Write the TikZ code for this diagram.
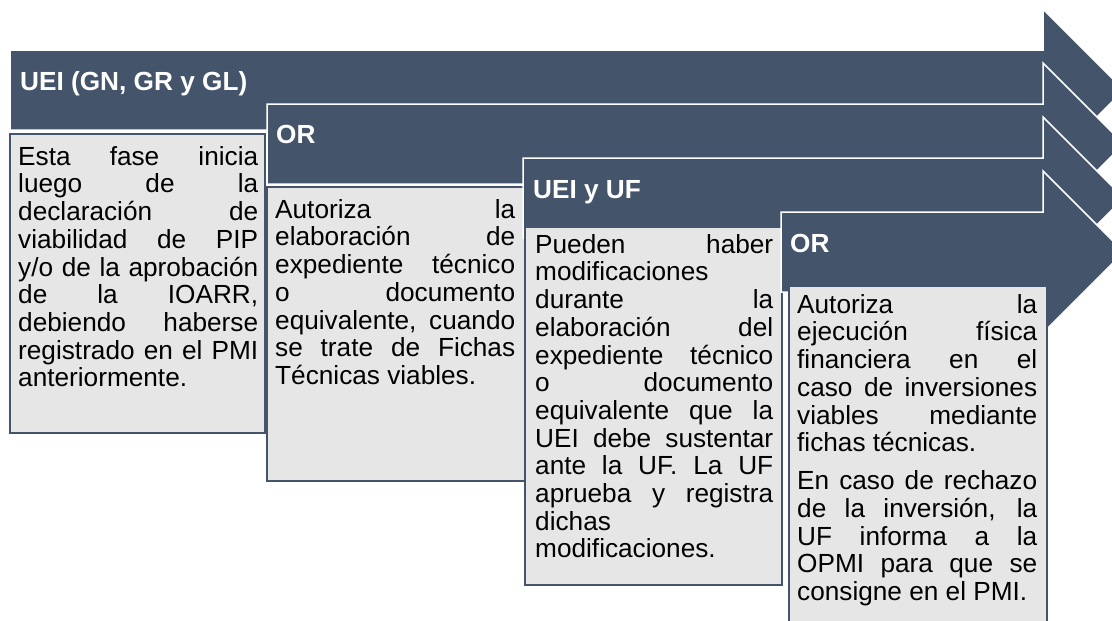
\documentclass[tikz,border=0pt]{standalone}
\usepackage{fontspec}
\setmainfont{Liberation Sans}
\definecolor{slate}{HTML}{44546A}
\definecolor{cardgrey}{HTML}{E7E6E6}
\newcommand{\txtfont}{\fontsize{26.2}{27.7}\selectfont}
\tikzset{
  arrowshape/.style={fill=slate, draw=white, line width=1.5pt, line join=miter},
  card/.style={fill=cardgrey, draw=slate, line width=2pt},
  title/.style={anchor=base west, inner sep=0pt, text=white, font=\txtfont\bfseries},
  bodytext/.style={anchor=north west, inner sep=0pt, text width=#1, align=justify, font=\txtfont},
}
\hyphenpenalty=10000
\exhyphenpenalty=10000
\tolerance=10000
\begin{document}
\begin{tikzpicture}[x=1pt,y=-1pt]
\useasboundingbox (0,0) rectangle (1112,621);
\clip (0,0) rectangle (1112,621);
% arrow 1
\path[arrowshape] (10,50) -- (1043,50) -- (1043,9) -- (1124,90) -- (1043,171) -- (1043,130) -- (10,130) -- cycle;
\draw[card] (10,134) rectangle (265,433);
% arrow 2
\path[arrowshape] (267,104) -- (1043,104) -- (1043,63) -- (1124,144) -- (1043,225) -- (1043,184) -- (267,184) -- cycle;
\draw[card] (267,187) rectangle (525,481);
% arrow 3
\path[arrowshape] (523,158) -- (1043,158) -- (1043,117) -- (1124,198) -- (1043,279) -- (1043,238) -- (523,238) -- cycle;
\draw[card] (525,227) rectangle (782,585);
% arrow 4
\path[arrowshape] (781,212) -- (1043,212) -- (1043,171) -- (1124,252) -- (1043,333) -- (1043,292) -- (781,292) -- cycle;
\draw[card] (789,286) rectangle (1047,640);

\node[title] (t1) at (20,90) {UEI (GN, GR y GL)};
\node[title] (t2) at (276,143) {OR};
\node[title] (t3) at (533,198) {UEI y UF};
\node[title] (t4) at (790,252) {OR};

\node[bodytext=240pt] (b1) at (18,145.61) {\strut Esta fase inicia\linebreak luego de la\linebreak declaración de\linebreak viabilidad de PIP\linebreak y/o de la aprobación\linebreak de la IOARR,\linebreak debiendo haberse\linebreak registrado en el PMI\linebreak anteriormente.};
\node[bodytext=240pt] (b2) at (275,198.61) {\strut Autoriza la\linebreak elaboración de\linebreak expediente técnico\linebreak o documento\linebreak equivalente, cuando\linebreak se trate de Fichas\linebreak Técnicas viables.};
\node[bodytext=238pt] (b3) at (535,233.61) {\strut Pueden haber\linebreak modificaciones\linebreak durante la\linebreak elaboración del\linebreak expediente técnico\linebreak o documento\linebreak equivalente que la\linebreak UEI debe sustentar\linebreak ante la UF. La UF\linebreak aprueba y registra\linebreak dichas\linebreak modificaciones.};
\node[bodytext=240pt] (b4) at (797,293.61) {\strut Autoriza la\linebreak ejecución física\linebreak financiera en el\linebreak caso de inversiones\linebreak viables mediante\linebreak fichas técnicas.\\[10.3pt]En caso de rechazo\linebreak de la inversión, la\linebreak UF informa a la\linebreak OPMI para que se\linebreak consigne en el PMI.};
\end{tikzpicture}
\end{document}
